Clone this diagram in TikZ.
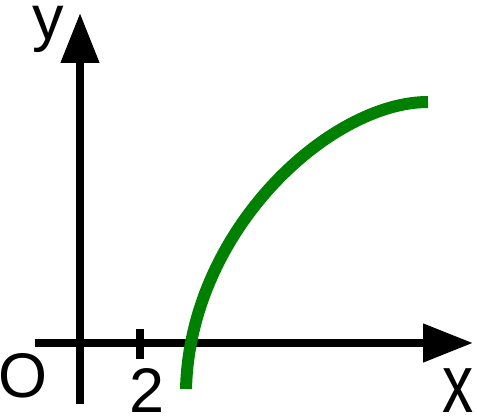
\documentclass[tikz,border=0pt]{standalone}
\usepackage{fontspec}
\setmainfont{Liberation Sans}
\usetikzlibrary{arrows.meta}
\definecolor{graphgreen}{HTML}{008000}

\begin{document}
\begin{tikzpicture}[x=1pt, y=-1pt,
  axis/.style={line width=8pt,-{Triangle[length=50pt,width=37pt]}},
  tick/.style={line width=8pt},
  lab/.style={inner sep=0pt,font=\fontsize{63}{63}\selectfont},
  graph/.style={line width=12pt,graphgreen}]

  \useasboundingbox (0,0) rectangle (477,419);

  % Axes
  \coordinate (xs) at (35,343);
  \coordinate (xe) at (473,343);
  \coordinate (ys) at (80,404);
  \coordinate (ye) at (80,13);
  \draw[axis] (xs) -- (xe);
  \draw[axis] (ys) -- (ye);

  % Tick
  \coordinate (tk1) at (140,329);
  \coordinate (tk2) at (140,359);
  \draw[tick] (tk1) -- (tk2);

  % Labels
  \node[lab] (orig) at (23.5,376) {O};
  \node[lab] (two) at (147,390.5) {2};
  \node[lab] (ylab) at (48,29) {y};
  \node[lab,font=\fontsize{83}{83}\selectfont] (xlab) at (458,390.5)
    {\scalebox{.75}[1]{x}};

  % Curve
  \coordinate (c0) at (186,389);
  \coordinate (c1) at (428,102);
  \draw[graph] (c0) .. controls (190,230) and (330,102) .. (c1);
\end{tikzpicture}
\end{document}
